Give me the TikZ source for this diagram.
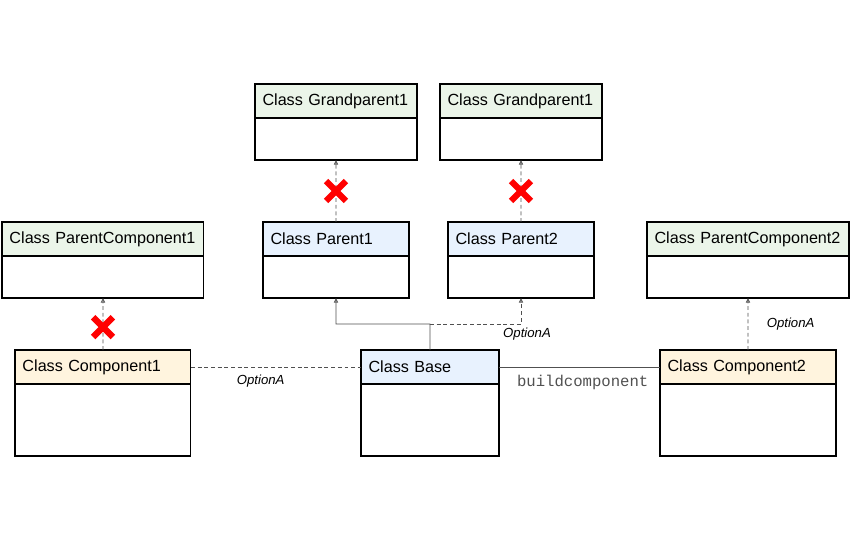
\documentclass[tikz,border=0pt]{standalone}
\usepackage{fontspec}
\setmainfont{Liberation Sans}
\setmonofont{Liberation Mono}
\usetikzlibrary{positioning, arrows.meta, shapes.misc}

\definecolor{gphead}{RGB}{235,245,233}
\definecolor{parhead}{RGB}{232,242,254}
\definecolor{comphead}{RGB}{255,244,222}
\definecolor{linkgray}{RGB}{80,80,80}

\begin{document}
\begin{tikzpicture}[x=0.02cm, y=-0.02cm,
    head/.style={draw, fill=#1, anchor=north west, line width=0.6pt, minimum height=0.68cm,
      inner xsep=0.15cm, inner ysep=0pt, outer sep=0pt, align=left,
      font=\fontsize{9.2}{11}\selectfont},
    body/.style={draw, fill=white, line width=0.6pt, below=0pt of #1, inner sep=0pt, outer sep=0pt},
    link/.style={draw=linkgray, line width=0.5pt},
    dep/.style={link, dash pattern=on 2.2pt off 1.6pt},
    inherit/.style={-{Triangle[open, length=2.6pt, width=2.4pt]}},
    nogo/.style={cross out, draw=red, solid, line width=3.6pt, minimum size=0.27cm, inner sep=0pt},
    lbl/.style={font=\fontsize{7.5}{9}\selectfont\itshape},
    call/.style={font=\fontsize{8.9}{10}\selectfont\ttfamily, text=linkgray}]
    \useasboundingbox (0,0) rectangle (851,540);

    % Grandparents
    \node[head=gphead, text width=2.94cm] (gp1) at (255,84) {Class Grandparent1};
    \node[body=gp1, minimum width=3.24cm, minimum height=0.84cm] (gp1b) {};
    \node[head=gphead, text width=2.94cm] (gp2) at (440,84) {Class Grandparent1};
    \node[body=gp2, minimum width=3.24cm, minimum height=0.84cm] (gp2b) {};

    % Parents and parent components
    \node[head=gphead, text width=3.74cm] (pc1) at (2,222) {Class ParentComponent1};
    \node[body=pc1, minimum width=4.04cm, minimum height=0.84cm] (pc1b) {};
    \node[head=parhead, text width=2.62cm] (p1) at (263,222) {Class Parent1};
    \node[body=p1, minimum width=2.92cm, minimum height=0.84cm] (p1b) {};
    \node[head=parhead, text width=2.62cm] (p2) at (448,222) {Class Parent2};
    \node[body=p2, minimum width=2.92cm, minimum height=0.84cm] (p2b) {};
    \node[head=gphead, text width=3.74cm] (pc2) at (647,222) {Class ParentComponent2};
    \node[body=pc2, minimum width=4.04cm, minimum height=0.84cm] (pc2b) {};

    % Base and components
    \node[head=comphead, text width=3.22cm] (c1) at (15,350) {Class Component1};
    \node[body=c1, minimum width=3.52cm, minimum height=1.44cm] (c1b) {};
    \node[head=parhead, text width=2.46cm] (base) at (361,350) {Class Base};
    \node[body=base, minimum width=2.76cm, minimum height=1.44cm] (baseb) {};
    \node[head=comphead, text width=3.22cm] (c2) at (660,350) {Class Component2};
    \node[body=c2, minimum width=3.52cm, minimum height=1.44cm] (c2b) {};

    % Blocked inheritance
    \draw[dep, inherit] (p1.north) -- (gp1b.south) node[midway, nogo] (x1) {};
    \draw[dep, inherit] (p2.north) -- (gp2b.south) node[midway, nogo] (x2) {};
    \draw[dep, inherit] (c1.north) -- (pc1b.south) node[pos=0.44, nogo] (x3) {};

    % Base inheritance
    \coordinate (split) at (430,324);
    \draw[link, inherit] (base.north) -- (split) -| (p1b.south);
    \draw[dep, inherit] (split) -| (p2b.south);
    \node[lbl] at (527,334) {OptionA};

    % Components
    \draw[dep] (c1.east) -- (base.west) node[pos=0.41, below=1pt, lbl] {OptionA};
    \draw[link] (base.east) -- (c2.west) node[pos=0.52, below=1pt, call] {buildcomponent};
    \draw[dep, inherit] (c2.north) -- (pc2b.south) node[midway, right=0.25cm, lbl] {OptionA};
\end{tikzpicture}
\end{document}
